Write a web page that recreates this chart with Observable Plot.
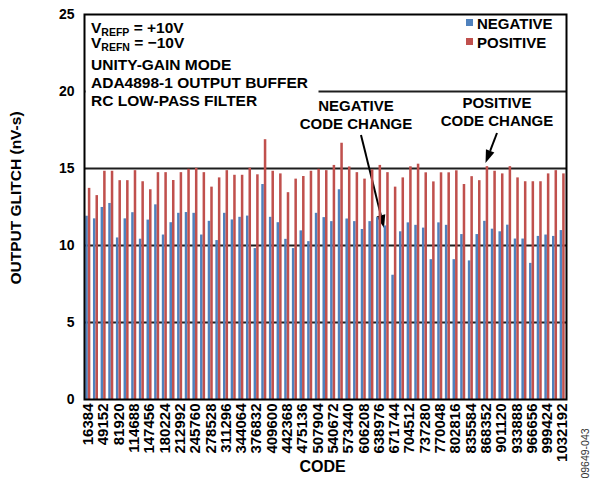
<!DOCTYPE html>
<html><head><meta charset="utf-8">
<script src="https://cdn.jsdelivr.net/npm/d3@7"></script>
<script src="https://cdn.jsdelivr.net/npm/@observablehq/plot@0.6"></script>
<style>
html,body{margin:0;padding:0;background:#fff;}
#chart{width:595px;height:483px;}
svg text{font-weight:bold;}
</style></head><body><div id="chart"></div>
<script>
// Codes (every 16384), x-axis labelled every other code
const codes = [16384, 32768, 49152, 65536, 81920, 98304, 114688, 131072, 147456, 163840,
  180224, 196608, 212992, 229376, 245760, 262144, 278528, 294912, 311296, 327680,
  344064, 360448, 376832, 393216, 409600, 425984, 442368, 458752, 475136, 491520,
  507904, 524288, 540672, 557056, 573440, 589824, 606208, 622592, 638976, 655360,
  671744, 688128, 704512, 720896, 737280, 753664, 770048, 786432, 802816, 819200,
  835584, 851968, 868352, 884736, 901120, 917504, 933888, 950272, 966656, 983040,
  999424, 1015808, 1032192];

// Output glitch (nV-s)
const negative = [11.90, 11.73, 12.47, 12.73, 10.49, 11.73, 12.13, 10.41, 11.65, 12.64,
  10.68, 11.48, 12.09, 12.14, 12.09, 10.68, 11.57, 10.32, 12.09, 11.66,
  11.83, 11.91, 9.80, 13.96, 11.83, 11.48, 10.40, 9.80, 10.95, 10.25,
  12.09, 11.81, 11.55, 13.62, 11.72, 11.55, 11.04, 11.55, 11.81, 11.27,
  8.07, 10.89, 11.47, 11.31, 11.13, 9.08, 11.47, 11.31, 9.08, 10.71,
  9.00, 10.71, 11.57, 11.06, 10.89, 11.32, 10.42, 10.42, 8.84, 10.59,
  10.68, 10.59, 10.97];
const positive = [13.71, 13.24, 14.82, 14.82, 14.21, 14.21, 14.86, 14.14, 13.62, 14.73,
  14.73, 14.22, 14.73, 14.95, 15.01, 14.73, 13.79, 14.39, 14.86, 14.56,
  14.56, 15.02, 14.59, 16.87, 14.82, 14.65, 13.43, 14.31, 14.48, 14.82,
  14.95, 14.86, 15.20, 16.64, 15.10, 14.73, 14.31, 14.91, 15.20, 14.73,
  13.79, 14.39, 15.11, 15.28, 14.72, 14.13, 14.72, 14.72, 14.85, 13.96,
  14.47, 14.21, 15.12, 14.82, 14.65, 15.12, 14.39, 14.14, 14.14, 14.14,
  14.65, 14.86, 14.65];

const xTicks = codes.filter((d, i) => i % 2 === 0);
const yTicks = [0, 5, 10, 15, 20, 25];
const gridLines = [5, 10, 15, 20];
const seriesNames = ["NEGATIVE", "POSITIVE"];
const seriesColors = ["#4F81BD", "#C0504D"];

const rows = codes.map((code, i) => ({code, neg: negative[i], pos: positive[i]}));
const step = codes[1] - codes[0];
const barW = step * 0.33;

const FONT = '"Liberation Sans", Arial, sans-serif';

function annotations(index, scales, values, dims) {
  const g = d3.create("svg:g").attr("font-family", FONT).attr("font-weight", "bold")
    .attr("fill", "black").attr("text-anchor", "start");
  const L = dims.marginLeft, T = dims.marginTop;
  // white box behind condition text
  g.append("rect").attr("x", L + 1.5).attr("y", T + 3).attr("width", 233).attr("height", 98).attr("fill", "white");
  const fs = 15.5;
  function refLine(y, sub, rest) {
    const t = g.append("text").attr("x", L + 7).attr("y", y).attr("font-size", fs);
    t.append("tspan").text("V");
    t.append("tspan").attr("font-size", 10.5).attr("dy", 3).text(sub);
    t.append("tspan").attr("dy", -3).text(" = " + rest);
  }
  refLine(33, "REFP", "+10V");
  refLine(48, "REFN", "\u221210V");
  const lines = [["UNITY-GAIN MODE", 70], ["ADA4898-1 OUTPUT BUFFER", 87.5], ["RC LOW-PASS FILTER", 106]];
  for (const [s, y] of lines) g.append("text").attr("x", L + 7).attr("y", y).attr("font-size", fs).text(s);

  // legend
  seriesNames.forEach((name, i) => {
    const y0 = 19 + i * 19;
    g.append("rect").attr("x", 466).attr("y", y0).attr("width", 7).attr("height", 7).attr("fill", seriesColors[i]);
    g.append("text").attr("x", 477).attr("y", y0 + 9.5).attr("font-size", 15).text(name);
  });

  // code-change callouts
  const callouts = [
    {cx: 356, y: 111, t: ["NEGATIVE", "CODE CHANGE"], from: [361, 135], to: [384, 228]},
    {cx: 497, y: 108, t: ["POSITIVE", "CODE CHANGE"], from: [497, 133], to: [485.5, 163]}
  ];
  for (const c of callouts) {
    c.t.forEach((s, i) => g.append("text").attr("x", c.cx).attr("y", c.y + i * 18).attr("font-size", 15)
      .attr("text-anchor", "middle").text(s));
    const [x1, y1] = c.from, [x2, y2] = c.to;
    const a = Math.atan2(y2 - y1, x2 - x1), hl = 13, hw = 4.5;
    const bx = x2 - hl * Math.cos(a), by = y2 - hl * Math.sin(a);
    g.append("line").attr("x1", x1).attr("y1", y1).attr("x2", bx).attr("y2", by)
      .attr("stroke", "black").attr("stroke-width", 2);
    const px = -Math.sin(a) * hw, py = Math.cos(a) * hw;
    g.append("path").attr("d", `M${x2},${y2}L${bx + px},${by + py}L${bx - px},${by - py}Z`).attr("fill", "black");
  }
  return g.node();
}

const chart = Plot.plot({
  width: 595,
  height: 483,
  marginLeft: 84,
  marginRight: 29,
  marginTop: 14,
  marginBottom: 84,
  style: {fontFamily: FONT, background: "white", color: "black"},
  x: {type: "linear", domain: [codes[0] - step / 2, codes[codes.length - 1] + step / 2]},
  y: {domain: [0, 25]},
  marks: [
    Plot.ruleY(gridLines, {stroke: "#1e1e1e", strokeWidth: 1.8}),
    annotations,
    Plot.rectY(rows, {x1: d => d.code - barW, x2: d => d.code, y: "neg", fill: seriesColors[0]}),
    Plot.rectY(rows, {x1: d => d.code, x2: d => d.code + barW, y: "pos", fill: seriesColors[1]}),
    Plot.axisY({ticks: yTicks, tickSize: 0, tickPadding: 10, fontSize: 14, label: null}),
    Plot.axisX({ticks: xTicks, tickSize: 0, tickPadding: 4, tickRotate: -90, fontSize: 15,
      tickFormat: d => String(d), label: null}),
    Plot.frame({stroke: "black", strokeWidth: 2}),
    Plot.text(["OUTPUT GLITCH (nV-s)"], {frameAnchor: "left", textAnchor: "middle", rotate: -90,
      dx: -68, dy: -9, fontSize: 15.5, fontWeight: "bold"}),
    Plot.text(["CODE"], {frameAnchor: "bottom", textAnchor: "middle", dx: -3, dy: 72, fontSize: 16, fontWeight: "bold"}),
    Plot.text(["09649-043"], {frameAnchor: "bottom-right", textAnchor: "middle", rotate: -90,
      dx: 22, dy: 54, fontSize: 10.5, fill: "#333"})
  ]
});
chart.querySelectorAll("text").forEach(t => { if (t.textContent === "09649-043") t.style.fontWeight = "normal"; });
document.getElementById("chart").appendChild(chart);
</script>
</body></html>
